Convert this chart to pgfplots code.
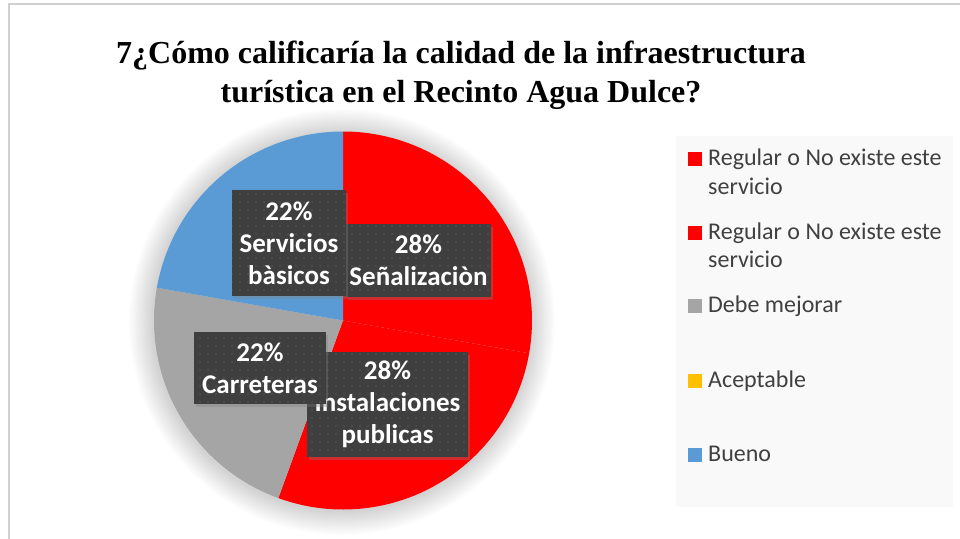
\documentclass[border=0pt]{standalone}
\usepackage{fontspec}
\setmainfont{Liberation Serif}
\newfontfamily\carlito{Carlito}
\usepackage{pgfplots}
\usepackage{pgfplotstable}
\pgfplotsset{compat=1.18}
\usepgfplotslibrary{polar}
\usetikzlibrary{shadows,patterns.meta}
\definecolor{cRed}{HTML}{FF0000}
\definecolor{cGray}{HTML}{A5A5A5}
\definecolor{cBlue}{HTML}{5B9BD5}
\definecolor{cYellow}{HTML}{FFC000}
\definecolor{boxbg}{HTML}{3F3F3F}
\definecolor{dotc}{HTML}{575757}
\definecolor{legbg}{HTML}{F9F9F9}
\definecolor{legtxt}{HTML}{404040}
\definecolor{border}{HTML}{D0D0D0}
% slice counts: Senalizacion, Instalaciones publicas, Carreteras, Servicios basicos
\pgfplotstableread{
name count
Senalizacion 5
Instalaciones 5
Carreteras 4
Servicios 4
}\piedata
\begin{document}
\begin{tikzpicture}
\pgfplotstablegetelem{0}{count}\of\piedata \let\vA\pgfplotsretval
\pgfplotstablegetelem{1}{count}\of\piedata \let\vB\pgfplotsretval
\pgfplotstablegetelem{2}{count}\of\piedata \let\vC\pgfplotsretval
\pgfplotstablegetelem{3}{count}\of\piedata \let\vD\pgfplotsretval
\pgfmathsetmacro\tot{\vA+\vB+\vC+\vD}
\pgfmathsetmacro\aA{90}
\pgfmathsetmacro\aB{\aA-360*\vA/\tot}
\pgfmathsetmacro\aC{\aB-360*\vB/\tot}
\pgfmathsetmacro\aD{\aC-360*\vC/\tot}
\pgfmathsetmacro\aE{\aD-360*\vD/\tot}
\path[use as bounding box] (0,0) rectangle (960pt,-538pt);
\draw[border, line width=1.3pt] (9pt,-600pt) -- (9pt,-4pt) -- (1000pt,-4pt);
% title
\node[anchor=base, font=\fontsize{32}{40}\selectfont\bfseries] at (461pt,-63pt) {7¿Cómo calificaría la calidad de la infraestructura};
\node[anchor=base, font=\fontsize{32}{40}\selectfont\bfseries] at (461pt,-102pt) {turística en el Recinto Agua Dulce?};
% soft shadow of pie
\foreach \i in {1,...,22} {\pgfmathsetmacro\rr{189+1.1*\i}\fill[black, opacity=0.0065] (342pt,-322pt) circle (\rr pt);}
\begin{polaraxis}[
  hide axis, clip=false,
  xmin=0, xmax=360, ymin=0, ymax=1,
  width=378pt, height=378pt, scale only axis,
  at={(343pt,-320.5pt)}, anchor=center,
]
\addplot[fill=cRed, draw=none, domain=\aB:\aA, samples=80] {1} -- (axis cs:0,0) -- cycle;
\addplot[fill=cRed, draw=none, domain=\aC:\aB, samples=80] {1} -- (axis cs:0,0) -- cycle;
\addplot[fill=cGray, draw=none, domain=\aD:\aC, samples=80] {1} -- (axis cs:0,0) -- cycle;
\addplot[fill=cBlue, draw=none, domain=\aE:\aD, samples=80] {1} -- (axis cs:0,0) -- cycle;
\end{polaraxis}
% data labels
\tikzset{lbl/.style={fill=boxbg, draw=none, inner sep=0pt, align=center, text=white,
  font=\carlito\fontsize{27}{32}\selectfont\bfseries,
  drop shadow={shadow xshift=2pt, shadow yshift=-3pt, opacity=0.35},
  postaction={pattern={Dots[distance=8pt, radius=0.8pt]}, pattern color=dotc}}}
\node[lbl, minimum width=145pt, minimum height=73pt] at (418.5pt,-260.5pt) {28\%\\Señalizaciòn};
\node[lbl, minimum width=114pt, minimum height=106pt] at (289pt,-243pt) {22\%\\Servicios\\bàsicos};
\node[lbl, minimum width=161pt, minimum height=105pt] at (387.5pt,-404.5pt) {28\%\\Instalaciones\\publicas};
\node[lbl, minimum width=132pt, minimum height=72pt] at (260pt,-368pt) {22\%\\Carreteras};
% legend
\fill[legbg] (676pt,-136pt) rectangle (953pt,-507pt);
\tikzset{lt/.style={anchor=base west, inner sep=0pt, text=legtxt, font=\carlito\fontsize{24}{28}\selectfont}}
\fill[cRed] (688pt,-152pt) rectangle (702pt,-166pt);
\node[lt] at (708pt,-165.7pt) {Regular o No existe este};
\node[lt] at (708pt,-194pt) {servicio};
\fill[cRed] (688pt,-226pt) rectangle (702pt,-240pt);
\node[lt] at (708pt,-239.3pt) {Regular o No existe este};
\node[lt] at (708pt,-267.7pt) {servicio};
\fill[cGray] (688pt,-299pt) rectangle (702pt,-313pt);
\node[lt] at (708pt,-312.7pt) {Debe mejorar};
\fill[cYellow] (688pt,-374pt) rectangle (702pt,-388pt);
\node[lt] at (708pt,-387.7pt) {Aceptable};
\fill[cBlue] (688pt,-448pt) rectangle (702pt,-462pt);
\node[lt] at (708pt,-461.7pt) {Bueno};
\end{tikzpicture}
\end{document}
